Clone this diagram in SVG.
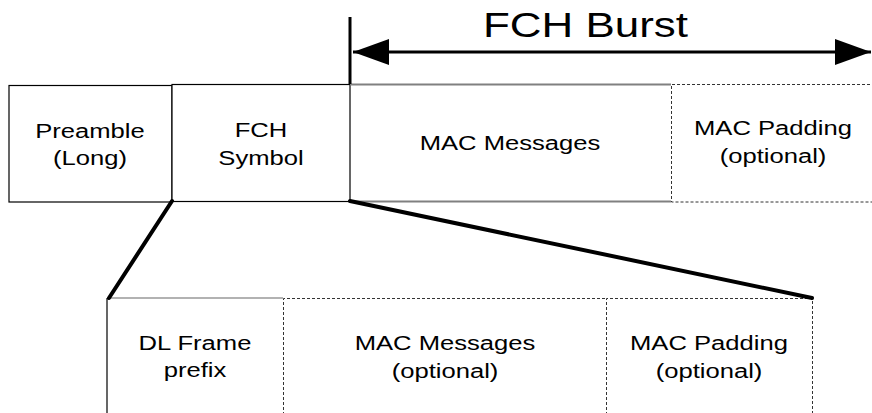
<svg xmlns="http://www.w3.org/2000/svg" width="872" height="413" viewBox="0 0 872 413">
<style>
  .lbl { font-family: "Liberation Sans", Arial, sans-serif; font-size: 21px; fill: #000; text-anchor: middle; }
  .big { font-family: "Liberation Sans", Arial, sans-serif; font-size: 36px; fill: #000; text-anchor: middle; }
  .solid { fill: #fff; stroke: #000; stroke-width: 1.2; }
  .dash { fill: none; stroke: #333; stroke-width: 1; stroke-dasharray: 3 2; }
  .grey { stroke: #808080; stroke-width: 2; fill: none; }
  .thick { stroke: #000; stroke-width: 4; fill: none; stroke-linecap: round; }
</style>
<defs>
  <marker id="ah" viewBox="0 0 36 26" refX="36" refY="13" markerWidth="36" markerHeight="26" markerUnits="userSpaceOnUse" orient="auto-start-reverse">
    <path d="M0,0 L36,13 L0,26 Z" fill="#000"/>
  </marker>
</defs>
<rect width="872" height="413" fill="#fff"/>

<g id="preamble">
  <rect class="solid" x="9" y="85.5" width="163" height="116.5"/>
  <text class="lbl" transform="translate(90,138) scale(1.22,1)">Preamble</text>
  <text class="lbl" transform="translate(90,165) scale(1.22,1)">(Long)</text>
</g>

<g id="fch-symbol">
  <rect class="solid" x="172" y="84.5" width="178" height="117"/>
  <text class="lbl" transform="translate(261,137) scale(1.22,1)">FCH</text>
  <text class="lbl" transform="translate(261,165) scale(1.22,1)">Symbol</text>
</g>

<g id="mac-messages">
  <line class="grey" x1="350" y1="84.5" x2="671" y2="84.5"/>
  <line class="grey" x1="350" y1="201.5" x2="671" y2="201.5"/>
  <text class="lbl" transform="translate(510,150) scale(1.22,1)">MAC Messages</text>
</g>

<g id="mac-padding">
  <path class="dash" d="M880,84.5 H671.5 V202 H880"/>
  <text class="lbl" transform="translate(773,135) scale(1.22,1)">MAC Padding</text>
  <text class="lbl" transform="translate(773,163) scale(1.22,1)">(optional)</text>
</g>

<g id="fch-burst">
  <line x1="350" y1="17" x2="350" y2="84" stroke="#000" stroke-width="3"/>
  <text class="big" transform="translate(585.5,37) scale(1.22,1)">FCH Burst</text>
</g>

<g id="dl-frame-prefix">
  <line x1="107" y1="298" x2="283" y2="298" stroke="#666" stroke-width="1.2"/>
  <line x1="107" y1="298" x2="107" y2="420" stroke="#000" stroke-width="1.2"/>
  <text class="lbl" transform="translate(195,350) scale(1.22,1)">DL Frame</text>
  <text class="lbl" transform="translate(195,377) scale(1.22,1)">prefix</text>
</g>

<g id="mac-messages-opt">
  <path class="dash" d="M283.5,420 V298.5 H606"/>
  <text class="lbl" transform="translate(445,350) scale(1.22,1)">MAC Messages</text>
  <text class="lbl" transform="translate(445,378) scale(1.22,1)">(optional)</text>
</g>

<g id="mac-padding-opt">
  <path class="dash" d="M606.5,420 V298.5 H812.5 V420"/>
  <text class="lbl" transform="translate(709,350) scale(1.22,1)">MAC Padding</text>
  <text class="lbl" transform="translate(709,378) scale(1.22,1)">(optional)</text>
</g>

<g id="connectors">
  <line x1="353" y1="52" x2="871" y2="52" stroke="#000" stroke-width="3" marker-start="url(#ah)" marker-end="url(#ah)"/>
  <line class="thick" x1="172" y1="201" x2="109" y2="298"/>
  <line class="thick" x1="350" y1="201" x2="812" y2="298"/>
</g>
</svg>
